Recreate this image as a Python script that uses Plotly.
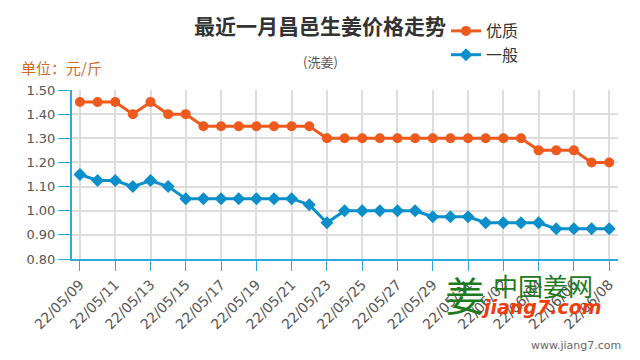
import plotly.graph_objects as go

dates = ["22/05/09", "22/05/10", "22/05/11", "22/05/12", "22/05/13", "22/05/14",
         "22/05/15", "22/05/16", "22/05/17", "22/05/18", "22/05/19", "22/05/20",
         "22/05/21", "22/05/22", "22/05/23", "22/05/24", "22/05/25", "22/05/26",
         "22/05/27", "22/05/28", "22/05/29", "22/05/30", "22/05/31", "22/06/01",
         "22/06/02", "22/06/03", "22/06/04", "22/06/05", "22/06/06", "22/06/07",
         "22/06/08"]
premium = [1.45, 1.45, 1.45, 1.40, 1.45, 1.40, 1.40, 1.35, 1.35, 1.35, 1.35,
           1.35, 1.35, 1.35, 1.30, 1.30, 1.30, 1.30, 1.30, 1.30, 1.30, 1.30,
           1.30, 1.30, 1.30, 1.30, 1.25, 1.25, 1.25, 1.20, 1.20]
ordinary = [1.15, 1.125, 1.125, 1.10, 1.125, 1.10, 1.05, 1.05, 1.05, 1.05, 1.05,
            1.05, 1.05, 1.025, 0.95, 1.00, 1.00, 1.00, 1.00, 1.00, 0.975, 0.975,
            0.975, 0.95, 0.95, 0.95, 0.95, 0.925, 0.925, 0.925, 0.925]
tick_labels = dates[::2]
y_ticks = [0.80, 0.90, 1.00, 1.10, 1.20, 1.30, 1.40, 1.50]

ORANGE = "#EE5A1E"
BLUE = "#0A8FCB"
AXIS = "#2AAAE0"
CJK = "Noto Sans CJK SC"

fig = go.Figure()
fig.add_trace(go.Scatter(
    x=dates, y=premium, name="优质", mode="lines+markers",
    line=dict(color=ORANGE, width=3),
    marker=dict(symbol="circle", size=10, color=ORANGE)))
fig.add_trace(go.Scatter(
    x=dates, y=ordinary, name="一般", mode="lines+markers",
    line=dict(color=BLUE, width=3),
    marker=dict(symbol="diamond", size=10, color=BLUE)))

# page body has an 8px default margin; figure occupies screen 8..640 x 8..360
OFF = 8
W, H = 640 - OFF, 360 - OFF
PL, PR, PT, PB = 72, 618, 90, 259  # plot area in screen pixels
L, R, T, B = PL - OFF, 640 - PR, PT - OFF, 360 - PB
pw, ph = PR - PL, PB - PT

def px(x):
    return (x - PL) / pw

def py(y):
    return (PB - y) / ph

fig.update_layout(
    width=W, height=H, autosize=False,
    margin=dict(l=L, r=R, t=T, b=B, autoexpand=False),
    paper_bgcolor="white", plot_bgcolor="white",
    font=dict(family="DejaVu Sans", color="#555"),
    showlegend=True,
    legend=dict(x=px(446), y=py(14), xanchor="left", yanchor="top",
                font=dict(family=CJK, size=16, color="#333"),
                bgcolor="rgba(0,0,0,0)", tracegroupgap=0, itemwidth=30),
    xaxis=dict(
        type="category", range=[-0.45, 30.5], automargin=False,
        tickmode="array", tickvals=tick_labels, ticktext=tick_labels,
        tickangle=-45, ticks="outside", ticklen=10, tickcolor=AXIS, tickwidth=1,
        showline=True, linecolor=AXIS, linewidth=2,
        showgrid=True, gridcolor="#DDDDDD", gridwidth=1.5,
        tickfont=dict(family="DejaVu Sans", size=14, color="#555"),
        zeroline=False, fixedrange=True),
    yaxis=dict(
        range=[0.80, 1.50], tickmode="array", tickvals=y_ticks, automargin=False,
        tickformat=".2f", ticks="outside", ticklen=12, tickcolor=AXIS,
        showline=True, linecolor=AXIS, linewidth=2,
        showgrid=True, gridcolor="#DDDDDD", gridwidth=1.5,
        tickfont=dict(family="DejaVu Sans", size=13, color="#555"),
        zeroline=False, fixedrange=True),
    annotations=[
        dict(text="<b>最近一月昌邑生姜价格走势</b>", xref="paper", yref="paper",
             x=px(320), y=py(25), xanchor="center", yanchor="middle",
             showarrow=False, font=dict(family=CJK, size=21, color="#333")),
        dict(text="(洗姜)", xref="paper", yref="paper",
             x=px(320), y=py(61), xanchor="center", yanchor="middle",
             showarrow=False, font=dict(family=CJK, size=13, color="#555")),
        dict(text="单位：元/斤", xref="paper", yref="paper",
             x=px(19), y=py(67), xanchor="left", yanchor="middle",
             showarrow=False, font=dict(family=CJK, size=15, color="#D2691E")),
        dict(text="姜", xref="paper", yref="paper",
             x=px(465), y=py(294), xanchor="center", yanchor="middle",
             showarrow=False, font=dict(family=CJK, size=40, color="#1E7A1E")),
        dict(text="中国姜网", xref="paper", yref="paper",
             x=px(543), y=py(285), xanchor="center", yanchor="middle",
             showarrow=False, font=dict(family=CJK, size=25, color="#1E7A1E")),
        dict(text="<b><i>jiang7.com</i></b>", xref="paper", yref="paper",
             x=px(541), y=py(307), xanchor="center", yanchor="middle",
             showarrow=False, font=dict(family="DejaVu Sans", size=19, color="#F03C0A")),
        dict(text="www.jiang7.com", xref="paper", yref="paper",
             x=px(623), y=py(345), xanchor="right", yanchor="middle",
             showarrow=False, font=dict(family="DejaVu Sans", size=11, color="#666")),
    ],
)

fig.write_html("out.html", config={"displayModeBar": False})
